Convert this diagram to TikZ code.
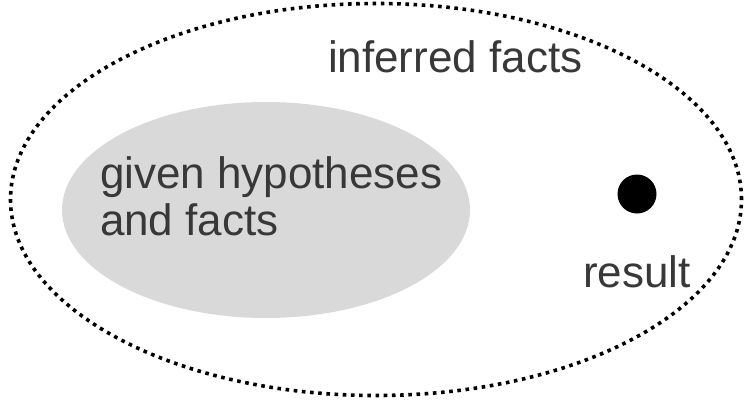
\documentclass[tikz,border=0pt]{standalone}
\usepackage{fontspec}
\setmainfont{Liberation Sans}
\usetikzlibrary{shapes.geometric}
\definecolor{hypgray}{HTML}{D9D9D9}
\definecolor{labelgray}{HTML}{383838}

\begin{document}
\begin{tikzpicture}[%
    x=1pt, y=-1pt,              % pixel-like units, y going down
    every node/.style={inner sep=0pt, outer sep=0pt},
    ]
% -------------------------------------------------
% Region and label styles
\tikzset{
  region/.style={ellipse, inner sep=0pt},
  inferred/.style={region, draw, line width=3.6pt, dash pattern=on 3.6pt off 4.6pt},
  given/.style={region, fill=hypgray},
  % text and the result point
  txt/.style={font=\fontsize{44}{47}\selectfont, text=labelgray, align=left},
  point/.style={circle, fill=black, minimum size=39pt}
}
% -------------------------------------------------
\useasboundingbox (0,0) rectangle (744,399);
% The two regions
\node [inferred, minimum width=731pt, minimum height=392pt] (infer) at (376,199.5) {};
\node [given, minimum width=408pt, minimum height=216pt] (hyp) at (266,210) {};
% Labels
\node [txt, anchor=base west] (inferlbl) at (328,72) {inferred facts};
\node [txt, anchor=base west] (hyplbl) at (100,235) {given hypotheses\\and facts};
% The result point
\node [point] (res) at (637,194) {};
\node [txt, anchor=base] (reslbl) at (637,287) {result};
% -------------------------------------------------
\end{tikzpicture}
\end{document}
